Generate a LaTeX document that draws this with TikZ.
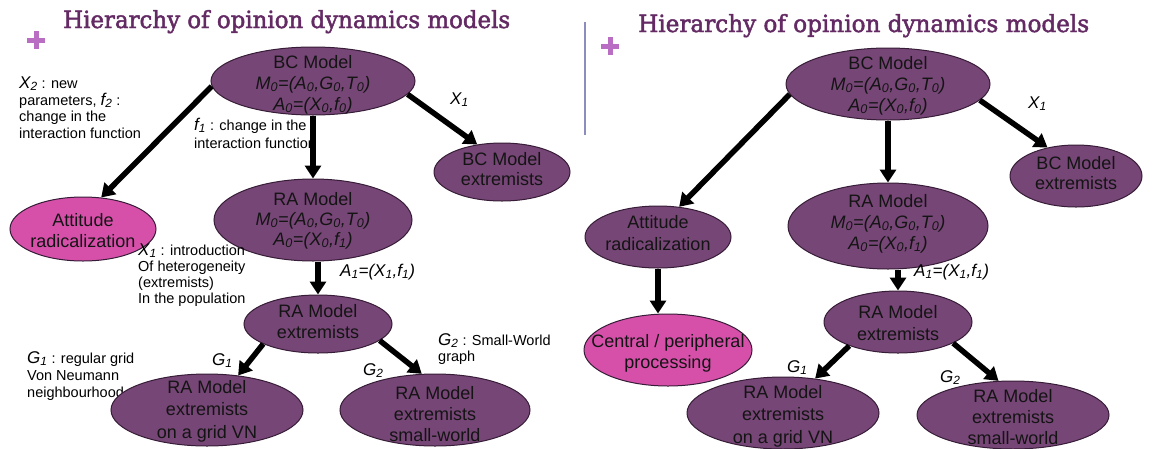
\documentclass[tikz,border=0pt]{standalone}
\usepackage{graphicx}
\usepackage{fontspec}
\setmainfont{Liberation Sans}
\newfontface\titlefont[FakeBold=2]{DejaVu Serif}
\usetikzlibrary{shapes.geometric,arrows.meta}
\definecolor{purp}{RGB}{118,70,118}
\definecolor{pinkf}{RGB}{214,80,170}
\definecolor{edgec}{RGB}{55,28,55}
\definecolor{titlec}{RGB}{100,42,100}
\definecolor{plusc}{RGB}{185,110,195}
\definecolor{sepc}{RGB}{140,140,190}
\definecolor{txt}{RGB}{20,20,20}
\tikzset{
 cell/.style={ellipse, draw=edgec, line width=1pt, fill=purp, inner sep=0pt},
 pcell/.style={cell, fill=pinkf},
 ctext/.style={inner sep=0pt, anchor=base, text=txt, font=\fontsize{18}{20}\selectfont},
 lbl/.style={inner sep=0pt, anchor=base west, text=black, font=\fontsize{14.5}{16.5}\selectfont},
 elbl/.style={inner sep=0pt, anchor=base west, font=\fontsize{17}{20}\selectfont\itshape},
 arr/.style={line width=5.5pt, -{Triangle[width=16pt,length=13pt]}},
 ttl/.style={inner sep=0pt, anchor=base west, text=titlec},
 plus/.style={line width=5pt, plusc},
}
\newcommand\sy[2]{{\fontsize{17}{17}\selectfont\itshape #1\textsubscript{#2}}}
\begin{document}
\begin{tikzpicture}[x=1pt,y=-1pt]
\fill[white] (0,0) rectangle (1154,448);
\useasboundingbox (0,0) rectangle (1154,448);

% ---------------- left slide ----------------
\draw[plus] (27,40) -- (45,40) (36,31) -- (36,49);
\node[ttl] (ttlL) at (63,28) {\resizebox{447pt}{18pt}{\fontsize{20}{24}\selectfont\titlefont Hierarchy of opinion dynamics models}};

\node[lbl] (x2lbl) at (19,88) {\begin{tabular}[t]{@{}l@{}}\sy{X}{2} : new\\parameters, \sy{f}{2} :\\change in the\\interaction function\end{tabular}};
\node[lbl, font=\fontsize{14.5}{18}\selectfont] (f1lbl) at (194,130) {\begin{tabular}[t]{@{}l@{}}\sy{f}{1} : change in the\\interaction function\end{tabular}};
\node[lbl, font=\fontsize{14.5}{17}\selectfont] (g1lbl) at (27,363) {\begin{tabular}[t]{@{}l@{}}\sy{G}{1} : regular grid\\Von Neumann\\neighbourhood\end{tabular}};

\node[cell, minimum width=204pt, minimum height=68pt] (bcL) at (313,81) {};
\node[cell, minimum width=136pt, minimum height=58pt] (bcxL) at (502,172) {};
\node[pcell, minimum width=146pt, minimum height=64pt] (attL) at (83,229) {};
\node[cell, minimum width=198pt, minimum height=82pt] (raL) at (313,220) {};
\node[cell, minimum width=148pt, minimum height=58pt] (raxL) at (318,324) {};
\node[cell, minimum width=192pt, minimum height=72pt] (gridL) at (207,410) {};
\node[cell, minimum width=190pt, minimum height=72pt] (smallL) at (435,410) {};

\node[ctext, font=\fontsize{18}{21}\selectfont] (bcLt) at (313,68) {\begin{tabular}[t]{@{}c@{}}BC Model\\\itshape M\textsubscript{0}=(A\textsubscript{0},G\textsubscript{0},T\textsubscript{0})\\\itshape A\textsubscript{0}=(X\textsubscript{0},f\textsubscript{0})\end{tabular}};
\node[ctext] (bcxLt) at (502,165) {\begin{tabular}[t]{@{}c@{}}BC Model\\extremists\end{tabular}};
\node[ctext, font=\fontsize{18}{21}\selectfont] (attLt) at (83,226) {\begin{tabular}[t]{@{}c@{}}Attitude\\radicalization\end{tabular}};
\node[ctext] (raLt) at (313,205) {\begin{tabular}[t]{@{}c@{}}RA Model\\\itshape M\textsubscript{0}=(A\textsubscript{0},G\textsubscript{0},T\textsubscript{0})\\\itshape A\textsubscript{0}=(X\textsubscript{0},f\textsubscript{1})\end{tabular}};
\node[ctext, font=\fontsize{18}{21}\selectfont] (raxLt) at (318,317) {\begin{tabular}[t]{@{}c@{}}RA Model\\extremists\end{tabular}};
\node[ctext, font=\fontsize{18}{22.5}\selectfont] (gridLt) at (207,393) {\begin{tabular}[t]{@{}c@{}}RA Model\\extremists\\on a grid VN\end{tabular}};
\node[ctext, font=\fontsize{18}{21}\selectfont] (smallLt) at (435,399) {\begin{tabular}[t]{@{}c@{}}RA Model\\extremists\\small-world\end{tabular}};

\node[lbl, font=\fontsize{14.5}{16}\selectfont] (x1lbl) at (138,255) {\begin{tabular}[t]{@{}l@{}}\sy{X}{1} : introduction\\Of heterogeneity\\(extremists)\\In the population\end{tabular}};
\node[lbl, font=\fontsize{14.5}{16}\selectfont] (g2lbl) at (438,345) {\begin{tabular}[t]{@{}l@{}}\sy{G}{2} : Small-World\\graph\end{tabular}};

\draw[arr] (bcL.183) -- (attL.60);
\draw[arr] (bcL.south) -- (raL.north);
\draw[arr] (bcL.-8) -- (bcxL.132);
\draw[arr] (raL.south -| raxL.north) -- (raxL.north);
\draw[arr] (raxL.200) -- (gridL.48);
\draw[arr] (raxL.-15) -- (smallL.110);

\node[elbl] (x1eL) at (450,104) {X\textsubscript{1}};
\node[elbl] (a1eL) at (340,276) {A\textsubscript{1}=(X\textsubscript{1},f\textsubscript{1})};
\node[elbl] (g1eL) at (212,365) {G\textsubscript{1}};
\node[elbl] (g2eL) at (363,375) {G\textsubscript{2}};

% ---------------- right slide ----------------
\draw[sepc, line width=1.2pt] (585,22) -- (585,135);
\draw[plus] (601,46) -- (619,46) (610,37) -- (610,55);
\node[ttl] (ttlR) at (638,32) {\resizebox{451pt}{18pt}{\fontsize{20}{24}\selectfont\titlefont Hierarchy of opinion dynamics models}};

\node[cell, minimum width=204pt, minimum height=72pt] (bcR) at (888,84) {};
\node[cell, minimum width=132pt, minimum height=62pt] (bcxR) at (1076,176) {};
\node[cell, minimum width=146pt, minimum height=62pt] (attR) at (658,237) {};
\node[cell, minimum width=200pt, minimum height=86pt] (raR) at (888,226) {};
\node[cell, minimum width=148pt, minimum height=62pt] (raxR) at (898,322) {};
\node[pcell, minimum width=168pt, minimum height=72pt] (centR) at (668,350) {};
\node[cell, minimum width=192pt, minimum height=72pt] (gridR) at (783,413) {};
\node[cell, minimum width=192pt, minimum height=68pt] (smallR) at (1013,415) {};

\node[ctext, font=\fontsize{18}{21}\selectfont] (bcRt) at (888,69) {\begin{tabular}[t]{@{}c@{}}BC Model\\\itshape M\textsubscript{0}=(A\textsubscript{0},G\textsubscript{0},T\textsubscript{0})\\\itshape A\textsubscript{0}=(X\textsubscript{0},f\textsubscript{0})\end{tabular}};
\node[ctext] (bcxRt) at (1076,169) {\begin{tabular}[t]{@{}c@{}}BC Model\\extremists\end{tabular}};
\node[ctext, font=\fontsize{18}{22}\selectfont] (attRt) at (658,228) {\begin{tabular}[t]{@{}c@{}}Attitude\\radicalization\end{tabular}};
\node[ctext, font=\fontsize{18}{21}\selectfont] (raRt) at (888,207) {\begin{tabular}[t]{@{}c@{}}RA Model\\\itshape M\textsubscript{0}=(A\textsubscript{0},G\textsubscript{0},T\textsubscript{0})\\\itshape A\textsubscript{0}=(X\textsubscript{0},f\textsubscript{1})\end{tabular}};
\node[ctext, font=\fontsize{18}{22}\selectfont] (raxRt) at (898,318) {\begin{tabular}[t]{@{}c@{}}RA Model\\extremists\end{tabular}};
\node[ctext, font=\fontsize{18}{21}\selectfont] (centRt) at (668,347) {\begin{tabular}[t]{@{}c@{}}Central / peripheral\\processing\end{tabular}};
\node[ctext, font=\fontsize{18}{22.5}\selectfont] (gridRt) at (783,398) {\begin{tabular}[t]{@{}c@{}}RA Model\\extremists\\on a grid VN\end{tabular}};
\node[ctext, font=\fontsize{18}{21}\selectfont] (smallRt) at (1013,402) {\begin{tabular}[t]{@{}c@{}}RA Model\\extremists\\small-world\end{tabular}};

\draw[arr] (bcR.186) -- (attR.55);
\draw[arr] (bcR.south) -- (raR.north);
\draw[arr] (bcR.-10) -- (bcxR.135);
\draw[arr] (raR.south -| raxR.north) -- (raxR.north);
\draw[arr] (attR.south) -- (attR.south |- centR.north);
\draw[arr] (raxR.206) -- (gridR.47);
\draw[arr] (raxR.-21) -- (smallR.113);

\node[elbl] (x1eR) at (1028,108) {X\textsubscript{1}};
\node[elbl] (a1eR) at (914,276) {A\textsubscript{1}=(X\textsubscript{1},f\textsubscript{1})};
\node[elbl] (g1eR) at (787,372) {G\textsubscript{1}};
\node[elbl] (g2eR) at (940,382) {G\textsubscript{2}};
\end{tikzpicture}
\end{document}
